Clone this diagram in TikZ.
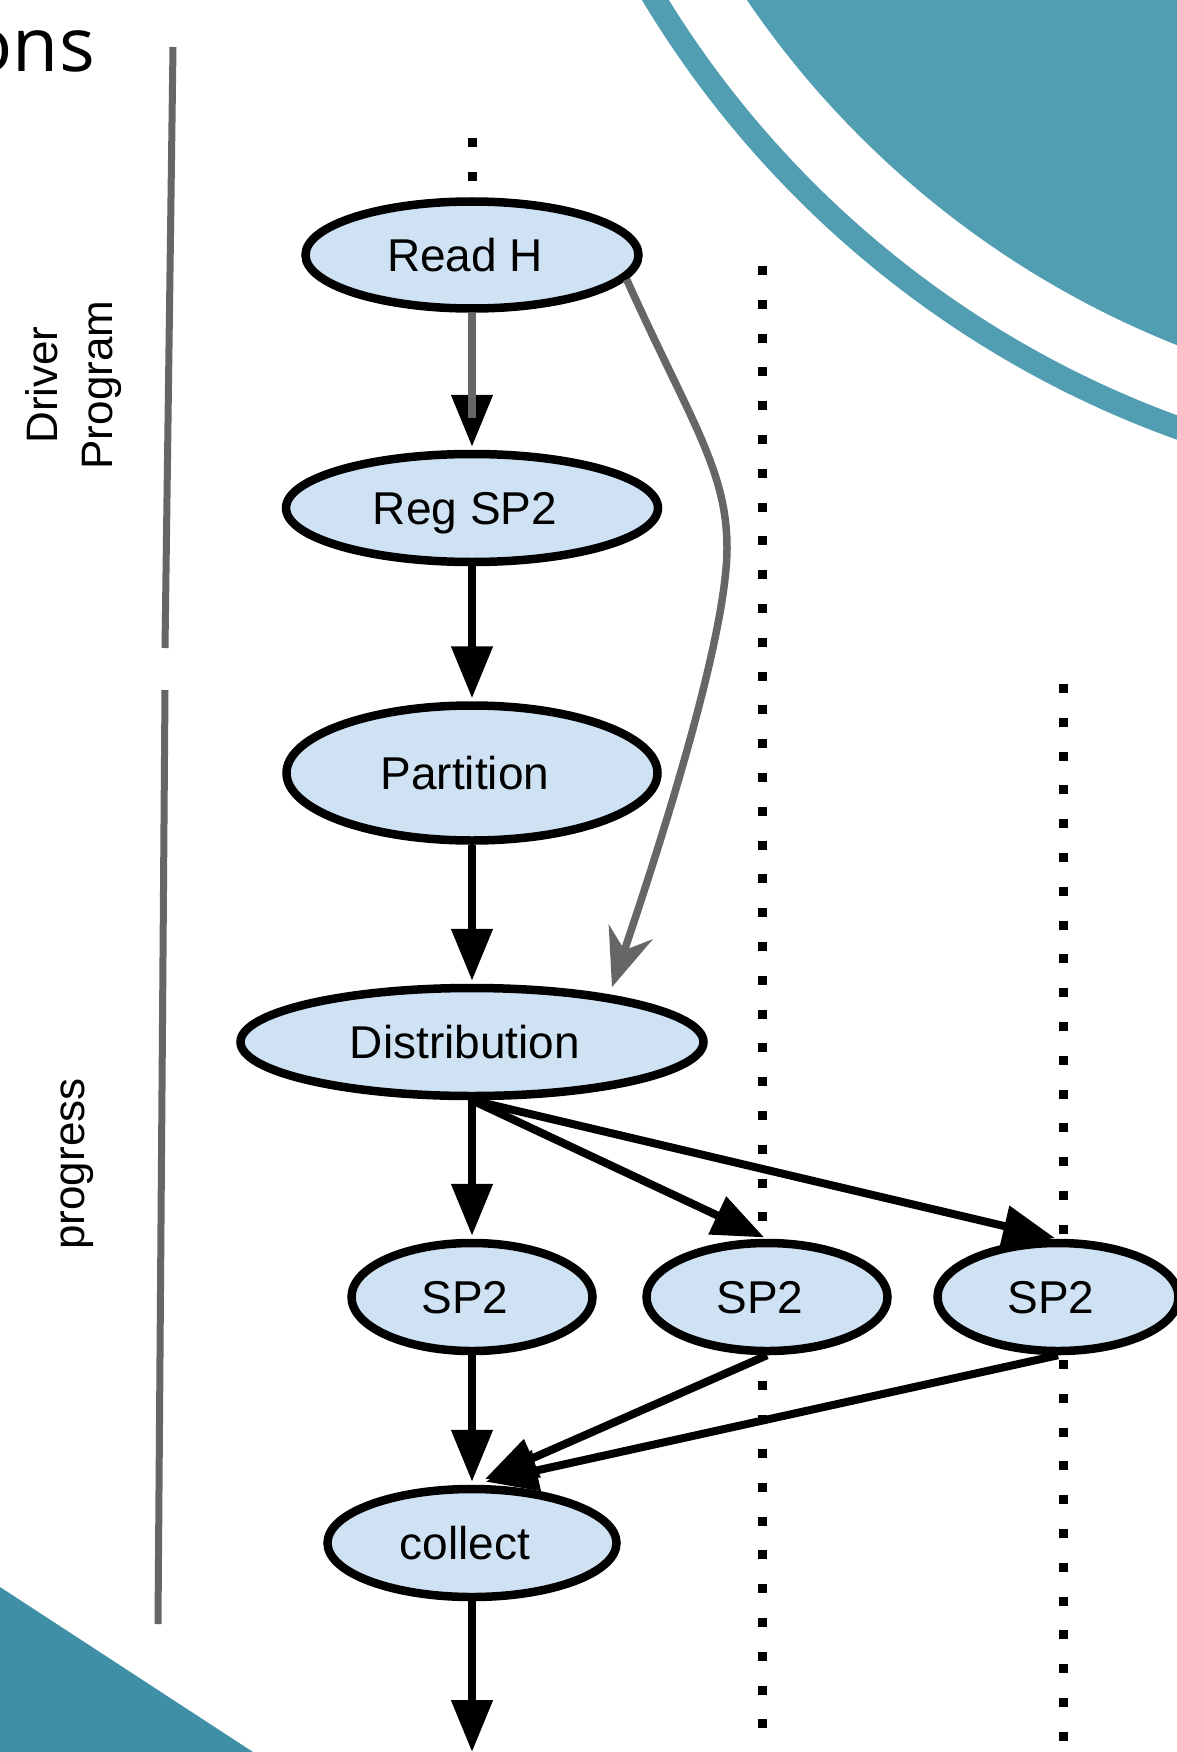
\documentclass[tikz,border=0pt]{standalone}
\usepackage{fontspec}
\setmainfont{Liberation Sans}
\newfontfamily\titlefont{Open Sans}
\usetikzlibrary{shapes.geometric,arrows.meta}
\definecolor{nodefill}{RGB}{207,226,243}
\definecolor{tealtop}{RGB}{81,157,178}
\definecolor{tealbot}{RGB}{63,144,166}
\definecolor{bargray}{RGB}{102,102,102}

\begin{document}
\begin{tikzpicture}[
  x=1pt, y=-1pt,
  pnode/.style={ellipse, draw=black, line width=8.5pt, fill=nodefill, inner sep=0pt,
    minimum height=108pt, text height=33pt, text depth=0pt, font=\fontsize{46}{55}\selectfont,
    execute at begin node=\hspace*{-14pt}},
  flow/.style={line width=8pt, shorten >=3pt, -{Triangle[length=52pt,width=40pt]}},
  hint/.style={line width=7.5pt, draw=bargray, -{Stealth[length=58pt,width=46pt,inset=19pt]}},
  lane/.style={line width=9pt, dash pattern=on 9pt off 24.8pt},
  bar/.style={line width=7pt, draw=bargray},
  side/.style={rotate=90, font=\fontsize{44}{55}\selectfont, align=center}
]
  \useasboundingbox (0,0) rectangle (1176,1752);
  \fill[white] (0,0) rectangle (1176,1752);

  % Decoracion de la diapositiva
  \fill[tealtop] (1523,-527) circle[radius=938pt];
  \draw[tealtop, line width=23pt] (1523,-527) circle[radius=1015pt];
  \fill[tealbot] (0,1587) -- (253,1752) -- (0,1752) -- cycle;
  \node[anchor=base east, inner sep=0pt, font=\titlefont\fontsize{75}{80}\selectfont] (ttl) at (95,72) {ons};

  % Barras laterales y etiquetas
  \draw[bar] (173,47) -- (165,648);
  \draw[bar] (165,690) -- (158,1624);
  \node[side] (drv) at (74,385) {Driver\\Program};
  \node[side, anchor=base] (prog) at (84,1164) {progress};

  % Separadores punteados entre nodos de trabajo
  \draw[lane] (762,266) -- (762,1752);
  \draw[lane] (1063,684) -- (1063,1752);

  % Etapas del programa principal
  \node[pnode, minimum width=333pt, minimum height=107pt] (rh) at (472,255) {Read H};
  \node[pnode, minimum width=372pt] (reg) at (472,508) {Reg SP2};
  \node[pnode, minimum width=371pt, minimum height=135pt] (part) at (472,773) {Partition};
  \node[pnode, minimum width=463pt] (dist) at (472,1042) {Distribution};

  % Trabajadores en paralelo y recogida
  \node[pnode, minimum width=241pt] (sp1) at (472,1297) {SP2};
  \node[pnode, minimum width=241pt] (sp2) at (767,1297) {SP2};
  \node[pnode, minimum width=241pt] (sp3) at (1058,1297) {SP2};
  \node[pnode, minimum width=289pt] (cl) at (472,1543) {collect};

  % Puntos de entrada y salida
  \coordinate (rhin) at (472,138);
  \coordinate (ghend) at (472,418);
  \coordinate (out) at (472,1752);

  % Aristas principales
  \draw[lane] (rhin) -- (rh.north);
  \draw[flow] (rh) -- (reg);
  \draw[bar, line width=7.5pt] (rh.south) -- (ghend);
  \draw[flow] (reg) -- (part);
  \draw[flow] (part) -- (dist);
  \draw[hint, shorten >=8pt] (rh.-9) .. controls (690,420) and (727,470) .. (727,548)
    .. controls (727,640) and (655,860) .. (dist.19);

  % Reparto y recogida
  \draw[flow] (dist.south) -- (sp1);
  \draw[flow] (dist.south) -- (sp2.north);
  \draw[flow] (dist.south) -- (sp3.north);
  \draw[flow] (sp1) -- (cl);
  \draw[flow, shorten >=14pt] (sp2.south) -- (cl.north);
  \draw[flow, shorten >=14pt] (sp3.south) -- (cl.north);
  \draw[flow, shorten >=0pt] (cl) -- (out);

\end{tikzpicture}
\end{document}
